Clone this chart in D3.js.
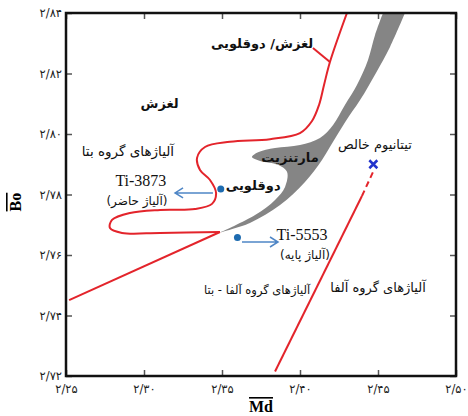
<!DOCTYPE html>
<html>
<head>
<meta charset="utf-8">
<script src="https://cdn.jsdelivr.net/npm/d3@7"></script>
<style>
  body { margin: 0; background: #fff; }
  .fa { font-family: "DejaVu Sans", sans-serif; }
  .en { font-family: "Liberation Serif", "DejaVu Serif", serif; }
</style>
</head>
<body>
<div id="chart"></div>
<script>
// Bo-Md diagram for titanium alloys

const width = 468, height = 416;
const margin = { top: 13, right: 12, bottom: 40, left: 66 };

const mdTicks = [2.25, 2.30, 2.35, 2.40, 2.45, 2.50];
const mdTickLabels = ["۲/۲۵", "۲/۳۰", "۲/۳۵", "۲/۴۰", "۲/۴۵", "۲/۵۰"];
const boTicks = [2.72, 2.74, 2.76, 2.78, 2.80, 2.82, 2.84];
const boTickLabels = ["۲/۷۲", "۲/۷۴", "۲/۷۶", "۲/۷۸", "۲/۸۰", "۲/۸۲", "۲/۸۴"];

// slip / twinning boundary (top down to the beta loop and the tip)
const betaBoundary = [
  [2.4301, 2.8400], [2.4192, 2.8238], [2.4154, 2.8162], [2.4122, 2.8096],
  [2.4077, 2.8043], [2.4000, 2.8003], [2.3808, 2.7983], [2.3551, 2.7974],
  [2.3391, 2.7957], [2.3340, 2.7921], [2.3359, 2.7881], [2.3423, 2.7848],
  [2.3462, 2.7805], [2.3436, 2.7769], [2.3327, 2.7752], [2.3103, 2.7749],
  [2.2910, 2.7739], [2.2795, 2.7716], [2.2782, 2.7689], [2.2859, 2.7673],
  [2.3103, 2.7673], [2.3487, 2.7676]
];
const betaBranch = [[2.4083, 2.8284], [2.4192, 2.8238]];
const alphaBetaLine = [[2.3487, 2.7676], [2.2520, 2.7451]];
const alphaLine = [[2.3840, 2.7215], [2.4397, 2.7795]];
const alphaDashed = [[2.4397, 2.7795], [2.4474, 2.7881]];

// martensite region: upper edge (top -> tip) and lower edge (tip -> top)
const martUpper = [
  [2.4532, 2.8400], [2.4481, 2.8327], [2.4436, 2.8245], [2.4365, 2.8162],
  [2.4288, 2.8096], [2.4212, 2.8030], [2.4128, 2.7987], [2.4000, 2.7964],
  [2.3840, 2.7954], [2.3731, 2.7940], [2.3692, 2.7924], [2.3744, 2.7911],
  [2.3859, 2.7898], [2.3917, 2.7874], [2.3904, 2.7825], [2.3840, 2.7782],
  [2.3712, 2.7732], [2.3490, 2.7675]
];
const martLower = [
  [2.3490, 2.7675], [2.3679, 2.7706], [2.3872, 2.7765], [2.4032, 2.7841],
  [2.4141, 2.7914], [2.4212, 2.7974], [2.4290, 2.8040], [2.4385, 2.8112],
  [2.4487, 2.8202], [2.4577, 2.8288], [2.4673, 2.8400]
];

const alloyNames = ["Ti-3873", "Ti-5553"];
const alloyMd = [2.3492, 2.3599];
const alloyBo = [2.7818, 2.7658];
const pureTi = [2.447, 2.790];

const svg = d3.select("#chart")
  .append("svg")
  .attr("width", width)
  .attr("height", height)
  .attr("viewBox", [0, 0, width, height]);

const x = d3.scaleLinear()
  .domain([2.25, 2.50])
  .range([margin.left, width - margin.right]);
const y = d3.scaleLinear()
  .domain([2.72, 2.84])
  .range([height - margin.bottom, margin.top]);

svg.append("clipPath").attr("id", "plot")
  .append("rect")
  .attr("x", x(2.25)).attr("y", y(2.84))
  .attr("width", x(2.50) - x(2.25)).attr("height", y(2.72) - y(2.84));

const line = d3.line().x(d => x(d[0])).y(d => y(d[1]));
const smooth = d3.line().x(d => x(d[0])).y(d => y(d[1])).curve(d3.curveCatmullRom.alpha(0.5));

// grey martensite area
const g = svg.append("g").attr("clip-path", "url(#plot)");
g.append("path")
  .attr("d", smooth(martUpper) + smooth(martLower).replace(/^M/, "L") + "Z")
  .attr("fill", "#858585");

// red boundaries
const red = "#e3242b";
g.append("path").attr("d", smooth(betaBoundary))
  .attr("fill", "none").attr("stroke", red).attr("stroke-width", 2);
g.append("path").attr("d", line(betaBranch))
  .attr("fill", "none").attr("stroke", red).attr("stroke-width", 2);
g.append("path").attr("d", line(alphaBetaLine))
  .attr("fill", "none").attr("stroke", red).attr("stroke-width", 2);
g.append("path").attr("d", line(alphaLine))
  .attr("fill", "none").attr("stroke", red).attr("stroke-width", 2);
g.append("path").attr("d", line(alphaDashed))
  .attr("fill", "none").attr("stroke", red).attr("stroke-width", 2)
  .attr("stroke-dasharray", "6,4");

// axes, ticks pointing inward
const axisFont = g2 => g2.selectAll("text")
  .attr("class", "fa").attr("font-size", 11.5).attr("fill", "#222");

svg.append("g")
  .attr("transform", `translate(0,${y(2.72)})`)
  .call(d3.axisBottom(x).tickValues(mdTicks).tickSize(-6).tickPadding(9)
    .tickFormat((d, i) => mdTickLabels[i]))
  .call(g2 => g2.select(".domain").remove())
  .call(axisFont);
svg.append("g")
  .attr("transform", `translate(0,${y(2.84)})`)
  .call(d3.axisTop(x).tickValues(mdTicks).tickSize(-6).tickFormat(""))
  .call(g2 => g2.select(".domain").remove());
svg.append("g")
  .attr("transform", `translate(${x(2.25)},0)`)
  .call(d3.axisLeft(y).tickValues(boTicks).tickSize(-6).tickPadding(4)
    .tickFormat((d, i) => boTickLabels[i]))
  .call(g2 => g2.select(".domain").remove())
  .call(axisFont);
svg.append("g")
  .attr("transform", `translate(${x(2.50)},0)`)
  .call(d3.axisRight(y).tickValues(boTicks).tickSize(-6).tickFormat(""))
  .call(g2 => g2.select(".domain").remove());
svg.selectAll(".tick line").attr("stroke", "#555").attr("stroke-width", 1.5);

svg.append("rect")
  .attr("x", x(2.25)).attr("y", y(2.84))
  .attr("width", x(2.50) - x(2.25)).attr("height", y(2.72) - y(2.84))
  .attr("fill", "none").attr("stroke", "#111").attr("stroke-width", 2.5);

// axis titles
svg.append("text")
  .attr("class", "en")
  .attr("x", x(2.375)).attr("y", height - 4)
  .attr("text-anchor", "middle")
  .attr("font-size", 16).attr("font-weight", "bold")
  .style("text-decoration", "overline")
  .text("Md");
svg.append("text")
  .attr("class", "en")
  .attr("transform", `translate(21,${y(2.7775)}) rotate(-90)`)
  .attr("text-anchor", "middle")
  .attr("font-size", 16).attr("font-weight", "bold")
  .style("text-decoration", "overline")
  .text("Bo");

// arrows from the alloy points to their labels
const arrowBlue = "#4f86c6";
const arrows = [
  { from: [2.3442, 2.7805], to: [2.3199, 2.7805] },
  { from: [2.3628, 2.7643], to: [2.3859, 2.7643] }
];
for (const a of arrows) {
  const x0 = x(a.from[0]), x1 = x(a.to[0]), yy = y(a.from[1]);
  const dir = Math.sign(x1 - x0);
  svg.append("path")
    .attr("d", `M${x0},${yy}L${x1},${yy}M${x1 - dir * 8},${yy - 5}L${x1},${yy}L${x1 - dir * 8},${yy + 5}`)
    .attr("fill", "none").attr("stroke", arrowBlue).attr("stroke-width", 1.5);
}

svg.append("g")
  .selectAll("circle")
  .data(alloyNames)
  .join("circle")
  .attr("cx", (d, i) => x(alloyMd[i]))
  .attr("cy", (d, i) => y(alloyBo[i]))
  .attr("r", 3.5)
  .attr("fill", "#1d6bb0");

// pure titanium marker
const cx = x(pureTi[0]), cy = y(pureTi[1]);
svg.append("path")
  .attr("d", `M${cx - 4},${cy - 4}L${cx + 4},${cy + 4}M${cx - 4},${cy + 4}L${cx + 4},${cy - 4}`)
  .attr("stroke", "#2233cc").attr("stroke-width", 2.5);

// region and point labels
const labels = [
  { t: "لغزش/ دوقلویی", md: 2.3757, bo: 2.8285, bold: true, size: 13 },
  { t: "لغزش", md: 2.3100, bo: 2.8086, bold: true, size: 13 },
  { t: "آلیاژهای گروه بتا", md: 2.2897, bo: 2.7927, size: 13.5 },
  { t: "(آلیاژ حاضر)", md: 2.2955, bo: 2.7765, size: 12 },
  { t: "مارتنزیت", md: 2.3936, bo: 2.7907, bold: true, size: 13 },
  { t: "دوقلویی", md: 2.3700, bo: 2.7815, bold: true, size: 13 },
  { t: "تیتانیوم خالص", md: 2.4480, bo: 2.7950, size: 13 },
  { t: "(آلیاژ پایه)", md: 2.4032, bo: 2.7587, size: 12 },
  { t: "آلیاژهای گروه آلفا - بتا", md: 2.3725, bo: 2.7471, size: 11.5 },
  { t: "آلیاژهای گروه آلفا", md: 2.4500, bo: 2.7478, size: 13 }
];
svg.append("g")
  .selectAll("text")
  .data(labels)
  .join("text")
  .attr("class", "fa")
  .attr("direction", "rtl")
  .attr("x", d => x(d.md))
  .attr("y", d => y(d.bo))
  .attr("text-anchor", "middle")
  .attr("font-size", d => d.size)
  .attr("font-weight", d => d.bold ? "bold" : "normal")
  .attr("fill", "#111")
  .text(d => d.t);

const nameSpots = [[2.2980, 2.7828], [2.4013, 2.7650]];
svg.append("g")
  .selectAll("text")
  .data(alloyNames)
  .join("text")
  .attr("class", "en")
  .attr("x", (d, i) => x(nameSpots[i][0]))
  .attr("y", (d, i) => y(nameSpots[i][1]))
  .attr("text-anchor", "middle")
  .attr("font-size", 16)
  .attr("fill", "#111")
  .text(d => d);
</script>
</body>
</html>
